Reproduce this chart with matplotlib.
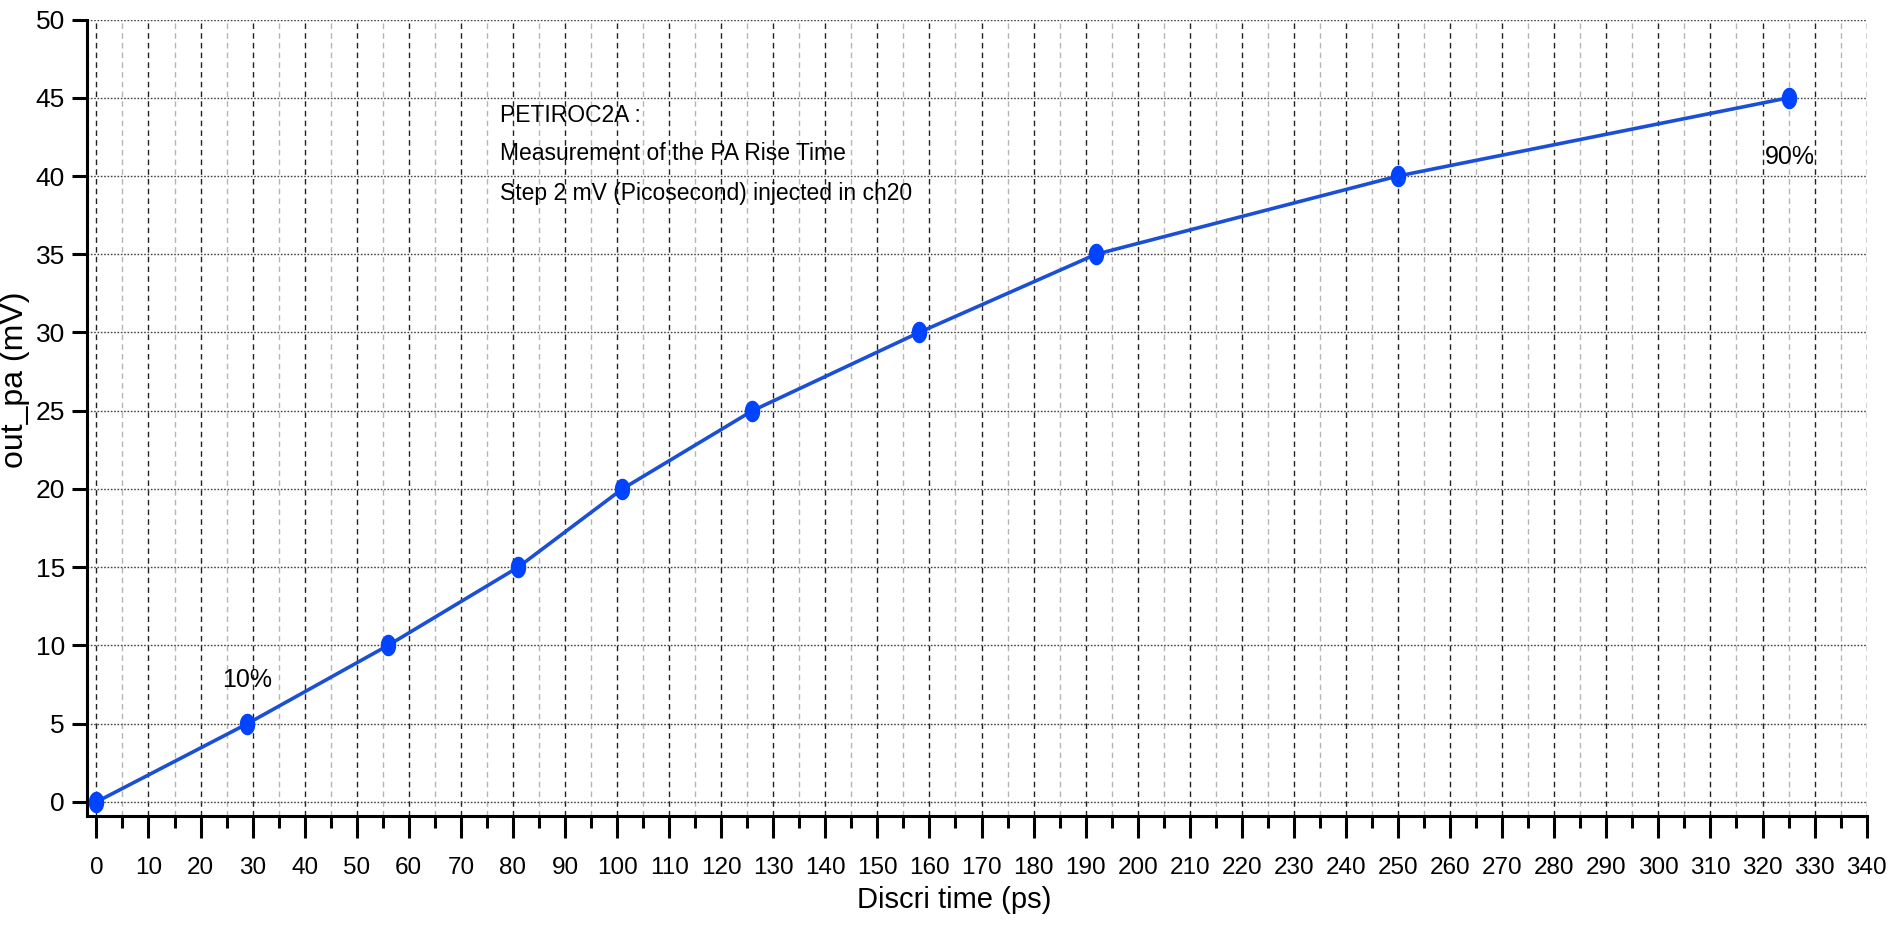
import numpy as np
import matplotlib
matplotlib.use("Agg")
import matplotlib.pyplot as plt
from matplotlib.path import Path
from matplotlib.ticker import MultipleLocator

# ---- data ----
discri_time_ps = [0, 29, 56, 81, 101, 126, 158, 192, 250, 325]
out_pa_mv = [0, 5, 10, 15, 20, 25, 30, 35, 40, 45]
x_ticks = list(range(0, 341, 10))
y_ticks = list(range(0, 51, 5))
title_lines = ["PETIROC2A :", "Measurement of the PA Rise Time",
               "Step 2 mV (Picosecond) injected in ch20"]
title_baselines = [43.45, 41.0, 38.45]
label_10 = "10%"
label_90 = "90%"

FONT = ["Liberation Sans Narrow", "Liberation Sans", "DejaVu Sans"]
plt.rcParams['font.family'] = FONT

fig = plt.figure(figsize=(18.92, 9.30), dpi=100)
ax = fig.add_axes([0.046, 0.1229, 0.9866 - 0.046, 0.979 - 0.1229])

# elliptical marker (tall)
t = np.linspace(0, 2 * np.pi, 40)
ell = Path(np.column_stack([0.7 * np.cos(t), np.sin(t)]), closed=True)

ax.plot(discri_time_ps, out_pa_mv, color='#1a4fd6', lw=2.6, zorder=3)
ax.plot(discri_time_ps, out_pa_mv, ls='none', marker=ell, ms=14.5,
        mfc='#0044ff', mec='#0044ff', zorder=4)

ax.set_xlim(-1.8, 340)
ax.set_ylim(-0.88, 50)
ax.set_xticks(x_ticks)
ax.set_yticks(y_ticks)
ax.xaxis.set_minor_locator(MultipleLocator(5))

for s in ['top', 'right']:
    ax.spines[s].set_visible(False)
for s in ['left', 'bottom']:
    ax.spines[s].set_linewidth(2.2)

ax.tick_params(axis='x', which='major', length=16, width=2.2, pad=14,
               labelsize=17.5, direction='out')
ax.tick_params(axis='x', which='minor', length=8.6, width=2.2, direction='out')
ax.tick_params(axis='y', which='major', length=11, width=2.2, pad=5,
               labelsize=19, direction='out')

# grids
ax.set_axisbelow(True)
ax.yaxis.grid(True, which='major', linestyle=(0, (1.2, 1.2)), color='#444444', lw=1.0)
ax.xaxis.grid(True, which='major', linestyle=(0, (4, 3)), color='#222222', lw=1.0)
ax.xaxis.grid(True, which='minor', linestyle=(0, (4, 3)), color='#b5b5b5', lw=1.0)

ax.set_xlabel("Discri time (ps)", fontsize=21)
ax.xaxis.set_label_coords(0.487, -0.088)
fig.text(15 / 1892, 1 - 380 / 930, "out_pa (mV)", rotation=90, fontsize=23,
         ha='center', va='center')

for line, yb in zip(title_lines, title_baselines):
    ax.text(77.5, yb, line, fontsize=16.5, va='baseline', ha='left', zorder=5)
ax.text(28.9, 7.8, label_10, fontsize=18, ha='center', va='center', zorder=5)
ax.text(325.3, 41.2, label_90, fontsize=18, ha='center', va='center', zorder=5)

fig.savefig("out.png", dpi=100, facecolor='white')
